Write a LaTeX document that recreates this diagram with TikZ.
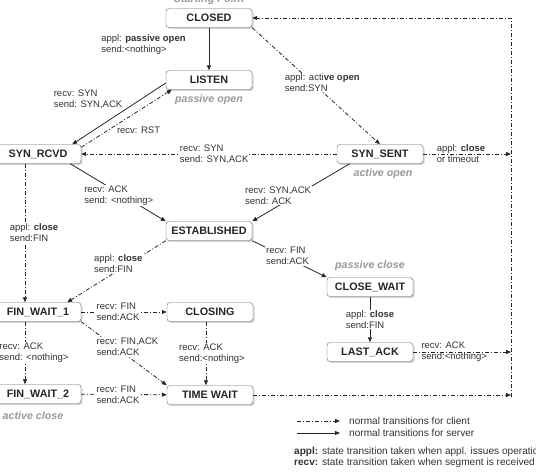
\documentclass[tikz,border=0pt]{standalone}
\usepackage{fontspec}
\setmainfont{Liberation Sans}
\usetikzlibrary{arrows.meta,shadows}

\tikzset{
  state/.style={draw=black!60, fill=white, rounded corners=3pt,
    minimum width=86pt, minimum height=19pt, inner sep=0pt,
    font=\fontsize{10.8}{12}\selectfont\bfseries, text=black!85,
    drop shadow={shadow xshift=1.5pt, shadow yshift=-1.5pt, fill=black!35}},
  lbl/.style={font=\fontsize{9.5}{11}\selectfont, text=black!80, align=left, inner sep=1pt},
  onln/.style={lbl, fill=white},
  key/.style={font=\fontsize{10.1}{12}\selectfont, text=black!80, inner sep=1pt},
  note/.style={font=\fontsize{10.7}{12}\selectfont\bfseries\itshape, text=black!40},
  client/.style={draw=black!85, line width=0.8pt,
    dash pattern=on 4pt off 2pt on 1pt off 2pt, -{Triangle[length=5pt,width=4pt]}},
  server/.style={draw=black!85, line width=0.8pt, -{Triangle[length=5pt,width=4pt]}},
}

\begin{document}
\begin{tikzpicture}[x=1pt, y=-1pt]
  \useasboundingbox (0,0) rectangle (536,473);
  % states
  \node[state] (closed) at (209,18) {CLOSED};
  \node[state] (listen) at (209,80) {LISTEN};
  \node[state] (synrcvd) at (38,154) {SYN\_RCVD};
  \node[state] (synsent) at (380,154) {SYN\_SENT};
  \node[state] (estab) at (209,231) {ESTABLISHED};
  \node[state] (finwait1) at (38,312) {FIN\_WAIT\_1};
  \node[state] (closing) at (210,312) {CLOSING};
  \node[state] (closewait) at (370,287) {CLOSE\_WAIT};
  \node[state] (lastack) at (370,352) {LAST\_ACK};
  \node[state] (finwait2) at (38,394) {FIN\_WAIT\_2};
  \node[state] (timewait) at (210,395) {TIME WAIT};
  % gray notes
  \node[note, anchor=base] (start) at (209,3) {Starting Point};
  \node[note] (pasopen) at (209,100) {passive open};
  \node[note] (actopen) at (383,174) {active open};
  \node[note] (pasclose) at (370,266) {passive close};
  \node[note] (actclose) at (33,416) {active close};
  % right hand return line
  \coordinate (rt) at (511,18);
  \coordinate (rb) at (511,397);
  \draw[client] (rb) -- (rt) -- (closed.east);

  % opening
  \draw[server] (closed) -- node[lbl, pos=0.4, anchor=east, xshift=-22pt]
    {appl: \textbf{passive open}\\send:<nothing>} (listen);
  \draw[server] ([yshift=-3pt]listen.west) -- node[lbl, pos=0.45, anchor=south east]
    {recv: SYN\\send: SYN,ACK} ([xshift=-9pt]synrcvd.north east);
  \draw[client] ([yshift=-3pt]synrcvd.north east) -- node[lbl, pos=0.38, anchor=north west]
    {recv: RST} ([xshift=6pt]listen.south west);
  \draw[client] (closed.south east) -- node[onln, pos=0.47, xshift=10pt]
    {appl: acti\textbf{ve open}\\send:SYN} (synsent.north);
  \draw[client] (synsent) -- node[onln, pos=0.48]
    {recv: SYN\\send: SYN,ACK} (synrcvd);
  \draw[client] (synsent) -- node[lbl, pos=0.43]
    {appl: \textbf{close}\\or timeout} (synsent -| rt);
  \draw[server] ([xshift=-11pt]synrcvd.south east) -- node[onln, pos=0.55, xshift=-4pt]
    {recv: ACK\\send: <nothing>} (estab.north west);
  \draw[server] ([xshift=13pt]synsent.south west) -- node[onln, pos=0.55, xshift=-18pt]
    {recv: SYN,ACK\\send: ACK} (estab.north east);

  % closing
  \draw[client] ([xshift=-13pt]synrcvd.south) -- node[onln, xshift=9pt]
    {appl: \textbf{close}\\send:FIN} ([xshift=-13pt]finwait1.north);
  \draw[client] (estab.south west) -- node[onln, pos=0.37, xshift=-11pt]
    {appl: \textbf{close}\\send:FIN} ([xshift=-14pt]finwait1.north east);
  \draw[server] (estab.south east) -- node[onln, pos=0.42, xshift=4pt]
    {recv: FIN\\send:ACK} (closewait.north west);
  \draw[server] (closewait) -- node[onln]
    {appl: \textbf{close}\\send:FIN} (lastack);
  \draw[client] (lastack) -- node[lbl, pos=0.42]
    {recv: ACK\\send:<nothing>} (lastack -| rt);
  \draw[client] (finwait1) -- node[onln, xshift=-6pt]
    {recv: FIN\\send:ACK} (closing);
  \draw[client] (finwait1.south east) -- node[onln, pos=0.4, xshift=12pt]
    {recv: FIN,ACK\\send:ACK} (timewait.north west);
  \draw[client] ([xshift=-4pt]closing.south) -- node[onln, xshift=6pt]
    {recv: ACK\\send:<nothing>} ([xshift=-4pt]timewait.north);
  \draw[client] ([xshift=-13pt]finwait1.south) -- node[onln, xshift=9pt]
    {recv: ACK\\send: <nothing>} ([xshift=-13pt]finwait2.north);
  \draw[client] (finwait2) -- node[onln, xshift=-6pt]
    {recv: FIN\\send:ACK} (timewait);
  \draw[client] (timewait) -- (timewait -| rt);

  % legend
  \node[key, anchor=west] (kclient) at (348,421) {normal transitions for client};
  \node[key, anchor=west] (kserver) at (348,433) {normal transitions for server};
  \coordinate (kca) at (297,421);
  \coordinate (ksa) at (297,433);
  \draw[client] (kca) -- ([xshift=-8pt]kclient.west);
  \draw[server] (ksa) -- ([xshift=-8pt]kserver.west);
  \node[key, anchor=west] (kappl) at (293,452)
    {\textbf{appl:} state transition taken when appl. issues operation};
  \node[key, anchor=west] (krecv) at (293,463)
    {\textbf{recv:} state transition taken when segment is received};
\end{tikzpicture}
\end{document}
